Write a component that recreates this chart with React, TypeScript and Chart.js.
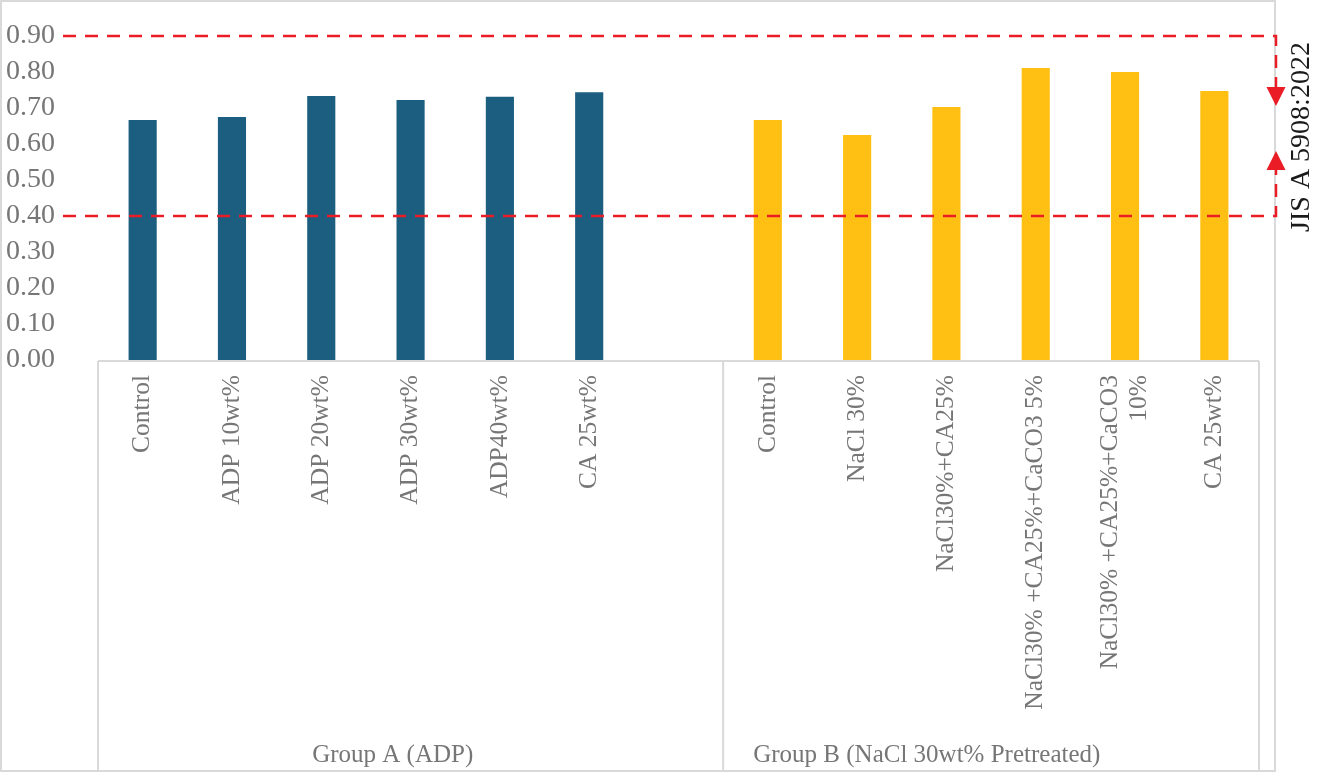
import { useEffect, useRef } from 'react';
import { Chart, registerables } from 'chart.js';

Chart.register(...registerables);

// ---------- data ----------
const categories: (string | string[])[] = [
  'Control',
  'ADP 10wt%',
  'ADP 20wt%',
  'ADP 30wt%',
  'ADP40wt%',
  'CA 25wt%',
  '',
  'Control',
  'NaCl 30%',
  'NaCl30%+CA25%',
  'NaCl30% +CA25%+CaCO3 5%',
  ['NaCl30% +CA25%+CaCO3', '10%'],
  'CA 25wt%',
];

const groupAValues: (number | null)[] = [0.667, 0.675, 0.733, 0.722, 0.731, 0.744, null, null, null, null, null, null, null];
const groupBValues: (number | null)[] = [null, null, null, null, null, null, null, 0.667, 0.625, 0.703, 0.811, 0.8, 0.747];

const groupNames = ['Group A (ADP)', 'Group B (NaCl 30wt% Pretreated)'];
const groupStartIdx = [0, 7];
const groupEndIdx = [6, 12];

const yMin = 0;
const yMax = 0.9;
const yStep = 0.1;

const standardLimits = [0.9, 0.4];
const standardLabel = 'JIS A 5908:2022';

// ---------- styles ----------
const FONT = '"Liberation Serif", "Times New Roman", serif';
const TEXT_GREY = '#767676';
const FRAME = '#d9d9d9';
const BLUE = '#1b5e7f';
const YELLOW = '#ffc013';
const RED = '#ea1c26';
const groupLabelAt = [2.8, 8.78];

const decorPlugin = {
  id: 'decor',
  beforeDraw(chart: any) {
    const ctx = chart.ctx as CanvasRenderingContext2D;
    ctx.save();
    ctx.fillStyle = '#ffffff';
    ctx.fillRect(0, 0, chart.width, chart.height);
    ctx.strokeStyle = FRAME;
    ctx.lineWidth = 2;
    ctx.strokeRect(1, 1, 1274, 770);
    ctx.restore();
  },
  afterDatasetsDraw(chart: any) {
    const ctx = chart.ctx as CanvasRenderingContext2D;
    const xs = chart.scales.x;
    const ys = chart.scales.y;
    const area = chart.chartArea;
    const n = categories.length;
    const cw = (area.right - area.left) / n;

    // category axis box
    ctx.save();
    ctx.strokeStyle = FRAME;
    ctx.lineWidth = 2;
    const axisY = ys.getPixelForValue(0) + 1;
    ctx.beginPath();
    ctx.moveTo(area.left, axisY);
    ctx.lineTo(area.right, axisY);
    const dividers = [groupStartIdx[0] - 0.5, groupStartIdx[1] - 0.5, groupEndIdx[1] + 0.5];
    dividers.forEach((d) => {
      const x = xs.getPixelForValue(0) + d * cw;
      ctx.moveTo(x, axisY);
      ctx.lineTo(x, 771);
    });
    ctx.stroke();
    ctx.restore();

    // category labels
    ctx.save();
    ctx.fillStyle = TEXT_GREY;
    ctx.font = `25.5px ${FONT}`;
    ctx.textAlign = 'right';
    ctx.textBaseline = 'middle';
    categories.forEach((lab, i) => {
      const lines = Array.isArray(lab) ? lab : [lab];
      if (!lines.length || lines[0] === '') return;
      const x = xs.getPixelForValue(i);
      ctx.save();
      ctx.translate(x, 375);
      ctx.rotate(-Math.PI / 2);
      lines.forEach((ln, j) => {
        ctx.fillText(ln, 0, (j - (lines.length - 1) / 2) * 29);
      });
      ctx.restore();
    });
    ctx.restore();

    // group labels
    ctx.save();
    ctx.fillStyle = TEXT_GREY;
    ctx.font = `25px ${FONT}`;
    ctx.textAlign = 'center';
    ctx.textBaseline = 'alphabetic';
    groupNames.forEach((g, i) => {
      const x = xs.getPixelForValue(0) + groupLabelAt[i] * cw;
      ctx.fillText(g, x, 762);
    });
    ctx.restore();

    // standard limit lines with arrows
    const yTop = ys.getPixelForValue(standardLimits[0]);
    const yBot = ys.getPixelForValue(standardLimits[1]);
    const ax = 1276;
    ctx.save();
    ctx.strokeStyle = RED;
    ctx.fillStyle = RED;
    ctx.lineWidth = 2.5;
    ctx.setLineDash([13, 9]);
    ctx.beginPath();
    ctx.moveTo(63, yTop);
    ctx.lineTo(ax, yTop);
    ctx.lineTo(ax, yTop + 51);
    ctx.stroke();
    ctx.beginPath();
    ctx.moveTo(63, yBot);
    ctx.lineTo(ax, yBot);
    ctx.lineTo(ax, yBot - 46);
    ctx.stroke();
    ctx.setLineDash([]);
    ctx.beginPath();
    ctx.moveTo(ax - 9.5, yTop + 51);
    ctx.lineTo(ax + 9.5, yTop + 51);
    ctx.lineTo(ax, yTop + 70);
    ctx.closePath();
    ctx.fill();
    ctx.beginPath();
    ctx.moveTo(ax - 9.5, yBot - 46);
    ctx.lineTo(ax + 9.5, yBot - 46);
    ctx.lineTo(ax, yBot - 65);
    ctx.closePath();
    ctx.fill();
    ctx.restore();

    // standard label
    ctx.save();
    ctx.fillStyle = '#1a1a1a';
    ctx.font = `28px ${FONT}`;
    ctx.textAlign = 'center';
    ctx.textBaseline = 'middle';
    ctx.translate(1302, (yTop + yBot) / 2 + 11);
    ctx.rotate(-Math.PI / 2);
    ctx.fillText(standardLabel, 0, 0);
    ctx.restore();
  },
};

export default function App() {
  const ref = useRef<HTMLCanvasElement | null>(null);

  useEffect(() => {
    document.body.style.margin = '0';
    if (!ref.current) return;
    const chart = new Chart(ref.current, {
      type: 'bar',
      data: {
        labels: categories.map((c) => (Array.isArray(c) ? c.join(' ') : c)),
        datasets: [
          {
            label: 'Group A',
            data: groupAValues,
            backgroundColor: BLUE,
            barPercentage: 0.315,
            categoryPercentage: 1,
            grouped: false,
          } as any,
          {
            label: 'Group B',
            data: groupBValues,
            backgroundColor: YELLOW,
            barPercentage: 0.315,
            categoryPercentage: 1,
            grouped: false,
          } as any,
        ],
      },
      options: {
        responsive: false,
        animation: false,
        devicePixelRatio: 1,
        layout: { padding: { left: 6, right: 61, top: 36, bottom: 413 } },
        plugins: {
          legend: { display: false },
          tooltip: { enabled: false },
        },
        scales: {
          x: {
            display: false,
          },
          y: {
            min: yMin,
            max: yMax,
            grid: { display: false, drawTicks: false },
            border: { display: false },
            afterFit: (scale: any) => {
              scale.width = 92;
            },
            ticks: {
              stepSize: yStep,
              autoSkip: false,
              padding: 0,
              crossAlign: 'far',
              color: TEXT_GREY,
              font: { family: FONT, size: 28 },
              callback: (v: any) => Number(v).toFixed(2),
            },
          } as any,
        },
      },
      plugins: [decorPlugin],
    });
    return () => chart.destroy();
  }, []);

  return (
    <div style={{ position: 'absolute', left: 0, top: 0, width: 1320, height: 773 }}>
      <canvas ref={ref} width={1320} height={773} />
    </div>
  );
}
